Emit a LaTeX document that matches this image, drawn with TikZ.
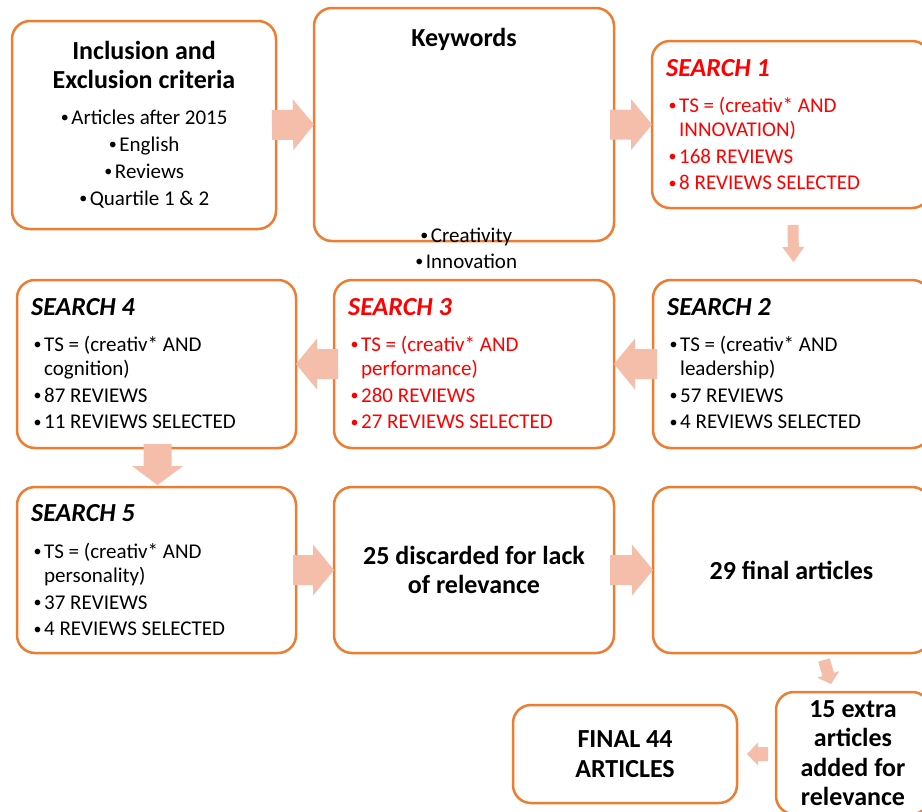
\documentclass[tikz,border=0pt]{standalone}
\usepackage{fontspec}
\setmainfont{Carlito}
\usepackage{tikz}
\usetikzlibrary{calc, positioning}
\definecolor{boxline}{RGB}{237,125,49}
\definecolor{arrowfill}{RGB}{244,190,170}
\definecolor{hitred}{RGB}{255,0,0}

\newcommand{\bul}{\makebox[11pt][l]{\hspace{0.5pt}\raisebox{1.3pt}{\fontsize{16}{16}\selectfont\textbullet}}}
\newcommand{\fatarrow}[5]{%
  \coordinate (fa-h) at ($(#2)!#5!(#1)$);
  \fill[arrowfill] ($(#1)!#3!90:(#2)$) -- ($(fa-h)!#3!-90:(#1)$) -- ($(fa-h)!#4!-90:(#1)$) -- (#2)
    -- ($(fa-h)!#4!90:(#1)$) -- ($(fa-h)!#3!90:(#1)$) -- ($(#1)!#3!-90:(#2)$) -- cycle;}

\tikzset{
  stage/.style={draw=boxline, line width=2.5pt, rounded corners=18pt, fill=white, inner sep=0pt, outer sep=0pt},
  headtext/.style={font=\fontsize{26}{28.5}\selectfont\bfseries, inner sep=0pt, align=center},
  bigtext/.style={font=\fontsize{26}{29.5}\selectfont\bfseries, align=center},
  searchhead/.style={font=\fontsize{26}{28}\selectfont\bfseries\itshape, inner sep=0pt, anchor=base west},
  listtext/.style={font=\fontsize{21}{24.5}\selectfont, align=left, inner sep=0pt, anchor=base west},
  centerlist/.style={font=\fontsize{21}{27}\selectfont, align=center, inner sep=0pt, anchor=base},
}

\begin{document}
\begin{tikzpicture}[x=1pt, y=-1pt]
    \useasboundingbox (0,0) rectangle (922,812);

    \node[stage, minimum width=264pt, minimum height=208pt] (incl) at (144,125) {};
    \node[stage, minimum width=300pt, minimum height=233pt] (keyw) at (464,124.5) {};
    \node[stage, minimum width=278pt, minimum height=167pt] (srch1) at (791,124.5) {};
    \node[stage, minimum width=279pt, minimum height=168pt] (srch4) at (156.5,364) {};
    \node[stage, minimum width=280pt, minimum height=168pt] (srch3) at (474,364) {};
    \node[stage, minimum width=277pt, minimum height=168pt] (srch2) at (791.5,364) {};
    \node[stage, minimum width=279pt, minimum height=166pt] (srch5) at (156.5,570) {};
    \node[stage, bigtext, minimum width=280pt, minimum height=166pt] (disc) at (474,570) {25 discarded for lack\\of relevance};
    \node[stage, bigtext, minimum width=277pt, minimum height=166pt] (final29) at (791.5,570) {29 final articles};
    \node[stage, bigtext, minimum width=224pt, minimum height=98pt] (final44) at (625,754) {FINAL 44\\ARTICLES};
    \node[stage, bigtext, minimum width=154pt, minimum height=122pt] (extra) at (853,753) {15 extra\\articles\\added for\\relevance};

    \fatarrow{[xshift=-4pt]incl.east}{keyw.west}{15pt}{25.5pt}{21pt}
    \fatarrow{[xshift=-4pt]keyw.east}{srch1.west}{15pt}{25.5pt}{21pt}
    \fatarrow{[shift={(2,17)}]srch1.south}{[shift={(2,-18)}]srch2.north}{5.5pt}{11pt}{15pt}
    \fatarrow{[xshift=4pt]srch2.west}{srch3.east}{15pt}{25.5pt}{21pt}
    \fatarrow{[xshift=4pt]srch3.west}{srch4.east}{15pt}{25.5pt}{21pt}
    \fatarrow{[shift={(1,-4)}]srch4.south}{[shift={(1,-2)}]srch5.north}{14pt}{25.5pt}{19pt}
    \fatarrow{[xshift=-3pt]srch5.east}{disc.west}{15pt}{25.5pt}{21pt}
    \fatarrow{[xshift=-4pt]disc.east}{final29.west}{15pt}{25.5pt}{21pt}
    \fatarrow{[shift={(32.5,7)}]final29.south}{[shift={(55,-8)}]extra.north west}{6pt}{11.5pt}{10pt}
    \fatarrow{[shift={(-8,1)}]extra.west}{[xshift=10pt]final44.east}{7pt}{11.5pt}{11pt}

    \node[headtext, anchor=base] (inclhead) at (144,88) {Inclusion and\\Exclusion criteria};
    \node[centerlist] (incllist) at (144,205) {\bul Articles after 2015\\\bul English\\\bul Reviews\\\bul Quartile 1 \& 2};
    \node[headtext, anchor=base] (keywhead) at (464,46) {Keywords};
    \node[centerlist, font=\fontsize{21}{26}\selectfont] (keywlist) at (466,268) {\bul Creativity\\\bul Innovation};

    \node[searchhead, text=hitred] (s1head) at ([shift={(14,35)}]srch1.north west) {SEARCH 1};
    \node[listtext, text=hitred] (s1list) at ([shift={(16,148.5)}]srch1.north west)
        {\bul TS = (creativ* AND\\\hspace*{11pt}INNOVATION)\\[2pt]\bul 168 REVIEWS\\[2pt]\bul 8 REVIEWS SELECTED};
    \node[searchhead] (s2head) at ([shift={(14,35)}]srch2.north west) {SEARCH 2};
    \node[listtext] (s2list) at ([shift={(16,148.5)}]srch2.north west)
        {\bul TS = (creativ* AND\\\hspace*{11pt}leadership)\\[2pt]\bul 57 REVIEWS\\[2pt]\bul 4 REVIEWS SELECTED};
    \node[searchhead, text=hitred] (s3head) at ([shift={(14,35)}]srch3.north west) {SEARCH 3};
    \node[listtext, text=hitred] (s3list) at ([shift={(16,148.5)}]srch3.north west)
        {\bul TS = (creativ* AND\\\hspace*{11pt}performance)\\[2pt]\bul 280 REVIEWS\\[2pt]\bul 27 REVIEWS SELECTED};
    \node[searchhead] (s4head) at ([shift={(14,35)}]srch4.north west) {SEARCH 4};
    \node[listtext] (s4list) at ([shift={(16,148.5)}]srch4.north west)
        {\bul TS = (creativ* AND\\\hspace*{11pt}cognition)\\[2pt]\bul 87 REVIEWS\\[2pt]\bul 11 REVIEWS SELECTED};
    \node[searchhead] (s5head) at ([shift={(14,34)}]srch5.north west) {SEARCH 5};
    \node[listtext] (s5list) at ([shift={(16,148.5)}]srch5.north west)
        {\bul TS = (creativ* AND\\\hspace*{11pt}personality)\\[2pt]\bul 37 REVIEWS\\[2pt]\bul 4 REVIEWS SELECTED};
\end{tikzpicture}
\end{document}
